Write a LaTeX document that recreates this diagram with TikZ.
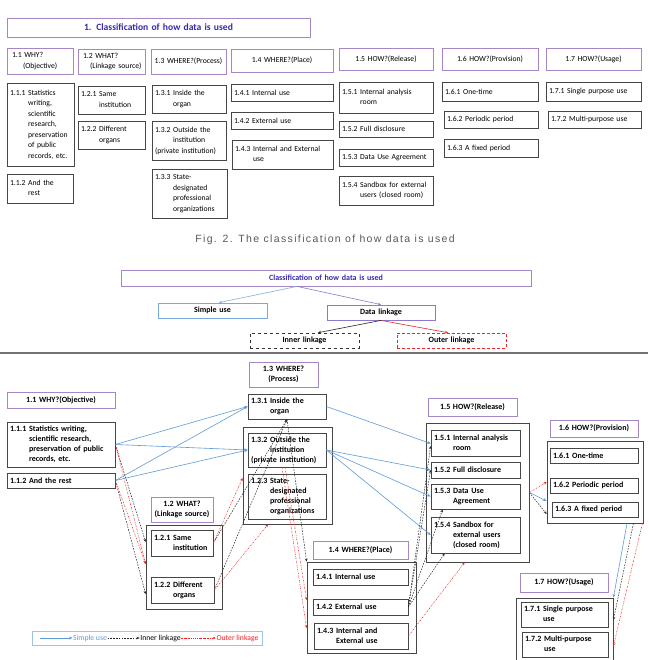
\documentclass[tikz,border=0pt]{standalone}
\usepackage{fontspec}
\setmainfont{Carlito}
\newfontfamily\capfont[LetterSpace=13]{Liberation Sans}
\usetikzlibrary{arrows.meta}
\definecolor{purp}{RGB}{165,135,200}
\definecolor{ttl}{RGB}{55,40,175}
\definecolor{blu}{RGB}{95,155,215}
\definecolor{rdc}{RGB}{240,35,35}
\definecolor{bdr}{RGB}{70,70,70}
\definecolor{lvb}{RGB}{140,120,205}
\newcommand{\upf}{\fontsize{7.7}{10.5}\selectfont}
\newcommand{\lof}{\fontsize{8}{10}\selectfont\bfseries}
\newcommand{\hgi}[2]{#1~\begin{tabular}[t]{@{}l@{}}#2\end{tabular}}
\newcommand{\mybox}[7]{%
  \pgfmathsetmacro\myBW{#4-#2}\pgfmathsetmacro\myBH{#5-#3}\pgfmathsetmacro\myTW{#4-#2-6}%
  \node[inner xsep=3pt, inner ysep=1pt, #6, minimum width=\myBW pt, minimum height=\myBH pt, text width=\myTW pt] (#1) at ({(#2+#4)/2},{(#3+#5)/2}) {#7};}
\tikzset{
  uh/.style={draw=purp, line width=0.8pt, align=center, font=\upf},
  ui/.style={draw=bdr, line width=0.9pt, align=left, font=\upf},
  ttlbox/.style={draw=purp, line width=0.9pt, align=center, text=ttl, font=\fontsize{9.6}{11}\selectfont\bfseries},
  lh/.style={draw=purp, line width=0.8pt, align=center, font=\lof},
  li/.style={draw=bdr, line width=0.8pt, align=left, font=\lof},
  grp/.style={draw=bdr, line width=0.8pt},
  ab/.style={draw=blu, line width=0.6pt, -{Stealth[length=3.5pt,width=3pt]}},
  ak/.style={draw=black!85, line width=0.5pt, dash pattern=on 1.6pt off 1.2pt, -{Stealth[length=3pt,width=2.6pt]}},
  ar/.style={draw=rdc, line width=0.5pt, dash pattern=on 1.4pt off 1pt on 0.4pt off 1pt, -{Stealth[length=3pt,width=2.6pt]}},
  lg/.style={inner sep=0.5pt, font=\upf},
}
\begin{document}
\begin{tikzpicture}[x=1pt,y=-1pt]
\useasboundingbox[fill=white] (0,0) rectangle (648,660);
% ================= Fig. 2 =================
\mybox{T}{7}{18}{310}{37}{ttlbox}{1. Classification of how data is used}
\mybox{u11h}{7}{48}{73}{74}{uh,align=left}{\hspace*{2pt}1.1 WHY?\\\hspace*{13pt}(Objective)}
\mybox{u12h}{78}{49}{145}{74}{uh,align=left}{\hspace*{2pt}1.2 WHAT?\\\hspace*{9pt}(Linkage source)}
\mybox{u13h}{151}{49}{226}{74}{uh}{1.3 WHERE?(Process)}
\mybox{u14h}{231}{49}{333}{72}{uh}{1.4 WHERE?(Place)}
\mybox{u15h}{339}{48}{433}{70}{uh}{1.5 HOW?(Release)}
\mybox{u16h}{442}{48}{538}{70}{uh}{1.6 HOW?(Provision)}
\mybox{u17h}{546}{48}{641}{70}{uh}{1.7 HOW?(Usage)}
\mybox{u111}{7}{83}{74}{166}{ui}{\hgi{1.1.1}{Statistics\\writing,\\scientific\\research,\\preservation\\of public\\records, etc.}}
\mybox{u112}{7}{174}{73}{203}{ui}{\hgi{1.1.2}{And the\\rest}}
\mybox{u121}{78}{86}{145}{114}{ui}{\hgi{1.2.1}{Same\\institution}}
\mybox{u122}{78}{121}{145}{149}{ui}{\hgi{1.2.2}{Different\\organs}}
\mybox{u131}{152}{85}{226}{113}{ui}{\hgi{1.3.1}{Inside the\\organ}}
\mybox{u132}{152}{121}{226}{160}{ui}{1.3.2 Outside the\\\hphantom{1.3.2}~institution\\(private institution)}
\mybox{u133}{152}{169}{227}{218}{ui}{\hgi{1.3.3}{State-\\designated\\professional\\organizations}}
\mybox{u141}{231}{84}{333}{101}{ui}{1.4.1 Internal use}
\mybox{u142}{231}{112}{333}{129}{ui}{1.4.2 External use}
\mybox{u143}{232}{140}{333}{169}{ui}{\hgi{1.4.3}{Internal and External\\use}}
\mybox{u151}{339}{82}{433}{113}{ui}{\hgi{1.5.1}{Internal analysis\\room}}
\mybox{u152}{339}{121}{433}{137}{ui}{1.5.2 Full disclosure}
\mybox{u153}{339}{149}{433}{166}{ui}{1.5.3 Data Use Agreement}
\mybox{u154}{339}{176}{433}{205}{ui}{\hgi{1.5.4}{Sandbox for external\\users (closed room)}}
\mybox{u161}{442}{82}{538}{101}{ui}{1.6.1 One-time}
\mybox{u162}{444}{111}{538}{128}{ui}{1.6.2 Periodic period}
\mybox{u163}{444}{139}{538}{157}{ui}{1.6.3 A fixed period}
\mybox{u171}{546}{82}{641}{101}{ui}{1.7.1 Single purpose use}
\mybox{u172}{548}{111}{641}{128}{ui}{1.7.2 Multi-purpose use}
\node[text=black!65, font=\capfont\fontsize{10.5}{12}\selectfont] (cap) at (325,240) {Fig. 2. The classification of how data is used};
% ================= Fig. 3 top =================
\mybox{C}{121}{270}{531}{286}{draw=purp, line width=0.8pt, align=center, text=ttl, font=\fontsize{8}{10}\selectfont\bfseries}{Classification of how data is used}
\mybox{S}{158}{303}{267}{318}{draw=blu!85, line width=0.8pt, align=center, font=\lof}{Simple use}
\mybox{L}{327}{305}{435}{320}{draw=lvb, line width=0.8pt, align=center, font=\lof}{Data linkage}
\mybox{I}{250}{333}{359}{348}{draw=black!80, dashed, line width=0.6pt, align=center, font=\lof}{Inner linkage}
\mybox{O}{397}{333}{506}{348}{draw=rdc, densely dashed, line width=0.6pt, align=center, font=\lof}{Outer linkage}
\draw[blu!80, line width=0.6pt, -{Stealth[length=3pt,width=2.6pt]}] ([xshift=-29pt]C.south) -- ([xshift=6.5pt]S.north);
\draw[lvb, line width=0.6pt, -{Stealth[length=3pt,width=2.6pt]}] ([xshift=-29pt]C.south) -- (L.north);
\draw[black!85, line width=0.6pt, -{Stealth[length=3pt,width=2.6pt]}] (L.south) -- ([xshift=13.5pt]I.north);
\draw[rdc, line width=0.6pt, -{Stealth[length=3pt,width=2.6pt]}] (L.south) -- ([xshift=-3.5pt]O.north);
\coordinate (sepL) at (0,353);
\coordinate (sepR) at (648,353);
\draw[black!55, line width=1.2pt] (sepL) -- (sepR);
% ================= Fig. 3 bottom =================
\mybox{h11}{7}{392}{115}{408}{lh}{1.1 WHY?(Objective)}
\mybox{b111}{7}{422}{115}{467}{li}{\hgi{1.1.1}{Statistics writing,\\scientific research,\\preservation of public\\records, etc.}}
\mybox{b112}{7}{473}{115}{488}{li}{1.1.2 And the rest}
\mybox{h12}{151}{497}{213}{522}{lh}{1.2 WHAT?\\(Linkage source)}
\mybox{g12}{146}{525}{222}{609}{grp}{}
\mybox{b121}{151}{530}{213}{556}{li}{\hgi{1.2.1}{Same\\institution}}
\mybox{b122}{151}{577}{214}{603}{li}{\hgi{1.2.2}{Different\\organs}}
\mybox{h13}{249}{362}{318}{387}{lh}{1.3 WHERE?\\(Process)}
\mybox{b131}{248}{394}{326}{419}{li}{\hgi{1.3.1}{Inside the\\organ}}
\mybox{g13}{243}{427}{332}{524}{grp}{}
\mybox{b132}{248}{433}{326}{467}{li}{1.3.2 Outside the\\\hphantom{1.3.2}~institution\\(private institution)}
\mybox{b133}{248}{474}{326}{519}{li}{\hgi{1.2.3}{State-\\designated\\professional\\organizations}}
\mybox{h14}{313}{541}{408}{559}{lh}{1.4 WHERE?(Place)}
\mybox{g14}{307}{562}{416}{653}{grp}{}
\mybox{b141}{313}{569}{408}{585}{li}{1.4.1 Internal use}
\mybox{b142}{313}{599}{408}{615}{li}{1.4.2 External use}
\mybox{b143}{314}{623}{408}{649}{li}{\hgi{1.4.3}{Internal and\\External use}}
\mybox{h15}{428}{398}{517}{416}{lh}{1.5 HOW?(Release)}
\mybox{g15}{426}{423}{529}{562}{grp}{}
\mybox{b151}{431}{430}{520}{456}{li}{\hgi{1.5.1}{Internal analysis\\room}}
\mybox{b152}{431}{462}{520}{478}{li}{1.5.2 Full disclosure}
\mybox{b153}{431}{484}{520}{509}{li}{\hgi{1.5.3}{Data Use\\Agreement}}
\mybox{b154}{431}{517}{520}{553}{li}{\hgi{1.5.4}{Sandbox for\\external users\\(closed room)}}
\mybox{h16}{550}{420}{638}{437}{lh}{1.6 HOW?(Provision)}
\mybox{g16}{547}{441}{643}{523}{grp}{}
\mybox{b161}{550}{448}{638}{463}{li}{1.6.1 One-time}
\mybox{b162}{550}{478}{638}{493}{li}{1.6.2 Periodic period}
\mybox{b163}{552}{502}{638}{517}{li}{1.6.3 A fixed period}
\mybox{h17}{520}{573}{608}{592}{lh}{1.7 HOW?(Usage)}
\mybox{g17}{516}{598}{613}{660}{grp}{}
\mybox{b171}{521}{602}{608}{627}{li}{\hgi{1.7.1}{Single purpose\\use}}
\mybox{b172}{522}{632}{608}{657}{li}{\hgi{1.7.2}{Multi-purpose\\use}}
% legend
\mybox{leg}{32}{631}{262}{645}{draw=blu!60, line width=0.7pt}{}
\coordinate (lg0) at (40,638);
\node[lg, text=blu] (lgS) at (90,638) {Simple use};
\node[lg] (lgI) at (160.5,638) {Inner linkage};
\node[lg, text=rdc] (lgO) at (237.5,638) {Outer linkage};
\draw[ab] (lg0) -- (lgS.west);
\draw[ak] (lgS.east) -- (lgI.west);
\draw[ar] (lgI.east) -- (lgO.west);
% blue simple use
\draw[ab] (b111.east) -- (b131.west);
\draw[ab] (b111.east) -- (b132.west);
\draw[ab] (b112.east) -- (b131.west);
\draw[ab] (b112.east) -- (b132.west);
\draw[ab] (b131.east) -- ([yshift=-0.5pt]b151.west);
\draw[ab] (b132.east) -- (b152.west);
\draw[ab] (b132.east) -- (b153.west);
\draw[ab] (b132.east) -- (b154.west);
\draw[ab] (g15.east) -- ([yshift=-19pt]g16.west);
\draw[ab] ([xshift=32pt]g16.south) -- (g17.north east);
% inner linkage (black dashed)
\draw[ak] (b111.east) -- ([yshift=25pt]g12.west);
\draw[ak] (b112.east) -- ([yshift=-27pt]g12.west);
\draw[ak] (b121.east) -- (b131.south);
\draw[ak] (b122.east) -- (b131.south);
\draw[ak] (b131.south) -- (g14.north west);
\draw[ak] (b142.east) -- ([yshift=-3pt]b151.west);
\draw[ak] (b142.east) -- (b152.west);
\draw[ak] (b142.east) -- ([xshift=12pt]b153.south west);
\draw[ak] (b142.east) -- ([xshift=14pt]b154.south west);
\draw[ak] (g15.east) -- ([yshift=-32pt]g16.west);
\draw[ak] ([xshift=-10pt]g16.south east) -- ([yshift=9pt]g17.east);
% outer linkage (red)
\draw[ar] (b111.east) -- ([yshift=3pt]g12.west);
\draw[ar] (b112.east) -- ([yshift=3pt]g12.west);
\draw[ar] (b121.east) -- ([yshift=-2.5pt]g13.west);
\draw[ar] (b122.east) -- ([xshift=-19.5pt]g13.south);
\draw[ar] ([xshift=-2pt]b132.south) -- ([yshift=7.5pt]g14.west);
\draw[ar] ([xshift=-5pt]b132.south) -- ([yshift=-20.5pt]g14.west);
\draw[ar] (b143.east) -- ([xshift=39pt]g15.south west);
\draw[ar] (g15.east) -- (g16.west);
\draw[ar] ([xshift=-1pt]g16.south east) -- ([yshift=-17pt]g17.east);
\end{tikzpicture}
\end{document}
